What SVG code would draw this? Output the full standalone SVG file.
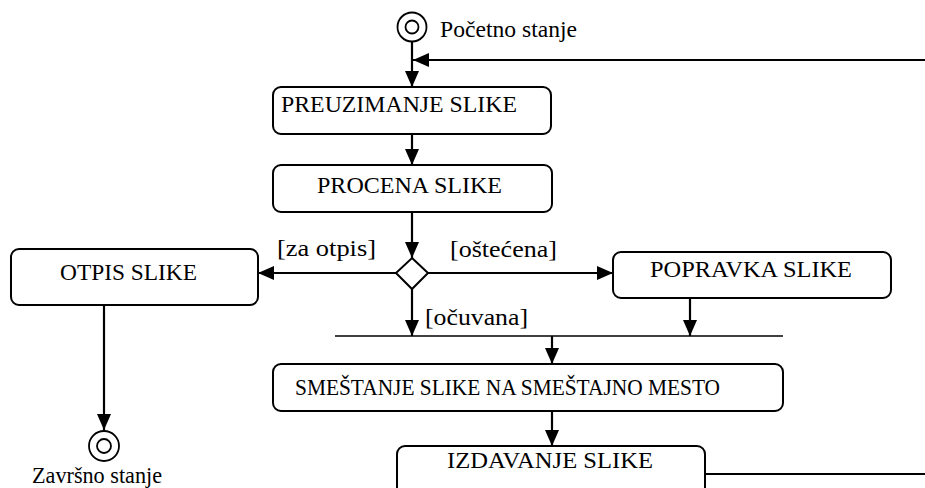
<svg xmlns="http://www.w3.org/2000/svg" width="925" height="488" viewBox="0 0 925 488">
<style>
.box{fill:#fff;stroke:#000;stroke-width:2}
.t{font-family:'Liberation Serif','Tinos','Nimbus Roman','Nimbus Roman No9 L','FreeSerif','DejaVu Serif','Noto Serif','Times New Roman',Times,serif;font-size:23px;fill:#000}
.c{fill:none;stroke:#000;stroke-width:2.2}
.st{fill:#fff;stroke:#000;stroke-width:1.8}
</style>
<defs>
<marker id="arr" viewBox="0 0 16 14" markerWidth="16" markerHeight="14" refX="16" refY="7" orient="auto" markerUnits="userSpaceOnUse">
<path d="M0,0 L16,7 L0,14 z" fill="#000"/>
</marker>
</defs>
<rect width="925" height="488" fill="#fff"/>
<g id="connectors">
<path class="c" d="M412,42 L412,87" marker-end="url(#arr)"/>
<path class="c" d="M925,60 L413,60" marker-end="url(#arr)"/>
<path class="c" d="M412,134 L412,165" marker-end="url(#arr)"/>
<path class="c" d="M412,212 L412,258" marker-end="url(#arr)"/>
<path class="c" d="M397,273 L258,273" marker-end="url(#arr)"/>
<path class="c" d="M428,273 L613,273" marker-end="url(#arr)"/>
<path class="c" d="M412,289 L412,336" marker-end="url(#arr)"/>
<path class="c" d="M690,289 L690,336" marker-end="url(#arr)"/>
<path class="c" d="M552,336 L552,364" marker-end="url(#arr)"/>
<path class="c" d="M552,411 L552,446" marker-end="url(#arr)"/>
<path class="c" d="M705,474 L925,474"/>
<path class="c" d="M104,305 L104,430" marker-end="url(#arr)"/>
<text class="t" x="277" y="256" textLength="99" lengthAdjust="spacingAndGlyphs">[za otpis]</text>
<text class="t" x="450" y="257" textLength="107" lengthAdjust="spacingAndGlyphs">[oštećena]</text>
<text class="t" x="425" y="325" textLength="103" lengthAdjust="spacingAndGlyphs">[očuvana]</text>
</g>
<g id="start">
<circle class="st" cx="412" cy="27" r="14.5"/>
<circle class="st" cx="412" cy="27" r="6.5"/>
<text class="t" x="440" y="37" textLength="137" lengthAdjust="spacingAndGlyphs">Početno stanje</text>
</g>
<g id="preuzimanje">
<rect class="box" x="273" y="87" width="278" height="47" rx="8"/>
<text class="t" x="281" y="112" textLength="236" lengthAdjust="spacingAndGlyphs">PREUZIMANJE SLIKE</text>
</g>
<g id="procena">
<rect class="box" x="273" y="165" width="279" height="47" rx="8"/>
<text class="t" x="317" y="193" textLength="185" lengthAdjust="spacingAndGlyphs">PROCENA SLIKE</text>
</g>
<g id="odluka">
<polygon points="412,258 428,273 412,289 396,273" fill="#fff" stroke="#000" stroke-width="2"/>
</g>
<g id="otpis">
<rect class="box" x="11" y="249" width="247" height="56" rx="8"/>
<text class="t" x="60" y="280" textLength="137" lengthAdjust="spacingAndGlyphs">OTPIS SLIKE</text>
</g>
<g id="popravka">
<rect class="box" x="613" y="252" width="278" height="46" rx="8"/>
<text class="t" x="650" y="277" textLength="202" lengthAdjust="spacingAndGlyphs">POPRAVKA SLIKE</text>
</g>
<g id="spajanje">
<line x1="335" y1="336" x2="783" y2="336" stroke="#000" stroke-width="1.5"/>
</g>
<g id="smestanje">
<rect class="box" x="273" y="364" width="510" height="47" rx="8"/>
<text class="t" x="295" y="395" textLength="425" lengthAdjust="spacingAndGlyphs">SMEŠTANJE SLIKE NA SMEŠTAJNO MESTO</text>
</g>
<g id="izdavanje">
<rect class="box" x="397" y="446" width="308" height="60" rx="8"/>
<text class="t" x="447" y="468" textLength="206" lengthAdjust="spacingAndGlyphs">IZDAVANJE SLIKE</text>
</g>
<g id="kraj">
<circle class="st" cx="104" cy="446" r="15"/>
<circle class="st" cx="104" cy="446" r="7"/>
<text class="t" x="32" y="483" textLength="130" lengthAdjust="spacingAndGlyphs">Završno stanje</text>
</g>
</svg>
